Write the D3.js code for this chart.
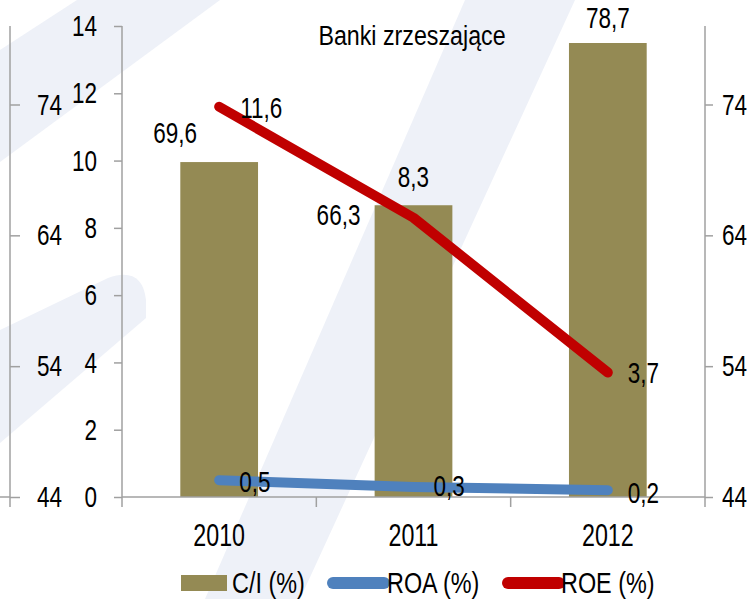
<!DOCTYPE html>
<html>
<head>
<meta charset="utf-8">
<script src="https://cdn.jsdelivr.net/npm/d3@7"></script>
<style>
  body { margin: 0; background: #fff; }
  svg { display: block; }
  text { font-family: 'Liberation Sans Narrow', 'Arial Narrow', 'Liberation Sans', sans-serif; fill: #000; }
</style>
</head>
<body>
<div id="graf"></div>
<script>
// -- Dane --
lata = ['2010', '2011', '2012']
ci   = [69.6, 66.3, 78.7]   // C/I (%) - słupki, oś 44-80
roa  = [0.5, 0.3, 0.2]      // ROA (%)
roe  = [11.6, 8.3, 3.7]     // ROE (%)
ticksLewa = [0, 2, 4, 6, 8, 10, 12, 14]
ticksCI   = [44, 54, 64, 74]
tytul     = 'Banki zrzeszające'
legenda   = ['C/I (%)', 'ROA (%)', 'ROE (%)']

// przesunięcia etykiet danych [dx, dy, anchor]
etykCI  = [[-44, -19, 'middle'], [-75, 20, 'middle'], [0, -15, 'middle']]
etykROE = [[21, 11, 'start'], [0, -31, 'middle'], [20, 10, 'start']]
etykROA = [[20, 12, 'start'], [20, 9, 'start'], [20, 13, 'start']]

fmt = v => d3.format('.1f')(v).replace('.', ',')
SX = 0.75   // zwężenie czcionki (brak Arial Narrow)

// tekst zwężony: x,y przeniesione do transform
function wezsze(sel, sx) {
  sel.each(function () {
    t = d3.select(this)
    px = +t.attr('x') || 0
    py = +t.attr('y') || 0
    t.attr('x', 0).attr('y', 0)
     .attr('transform', `translate(${px},${py}) scale(${sx || SX},1)`)
  })
}

// -- Canvas --
ancho_total = 755
alto_total = 599
margins = {top: 26, left: 122, right: 50, bottom: 102}
ancho = ancho_total - margins.left - margins.right
alto  = alto_total - margins.top - margins.bottom

svg = d3.select('#graf').append('svg')
        .attr('width', ancho_total)
        .attr('height', alto_total)

// znak wodny w tle
bg = svg.append('g').attr('fill', '#eef1f8')
bg.append('path').attr('d', 'M0,50 L77,0 L220,0 L0,162 Z')
bg.append('path').attr('d', 'M465,0 L575,0 L300,599 L205,599 Z')
bg.append('path').attr('d', 'M0,330 L108,278 Q142,266 146,300 L146,318 L0,443 Z')

g = svg.append('g')
       .attr('transform', `translate(${margins.left}, ${margins.top})`)

// -- Escaladores --
xGrp = d3.scaleBand().domain(lata).range([0, ancho])
x = d3.scaleBand().domain(lata).range([0, ancho]).paddingInner(0.6).paddingOuter(0.3)
yL = d3.scaleLinear().domain([0, 14]).range([alto, 0])
yCI = d3.scaleLinear().domain([44, 80]).range([alto, 0])
cx = d => xGrp(d) + xGrp.bandwidth() / 2

kolCI = '#948a54', kolROA = '#4f81bd', kolROE = '#c00000', kolOs = '#a0a0a0'

// -- Osie --
function stylOs(sel) {
  sel.select('.domain').remove()
  sel.selectAll('line').attr('stroke', kolOs).attr('stroke-width', 1.5)
  sel.selectAll('text').style('font-size', '30px').attr('fill', '#000')
     .each(function () {
       t = d3.select(this)
       t.attr('x', +t.attr('x') / SX).attr('transform', `scale(${SX},1)`)
     })
}
// lewa oś 0-14
g.append('g')
 .call(d3.axisLeft(yL).tickValues(ticksLewa).tickSize(8).tickPadding(17).tickFormat(d3.format('d')))
 .call(stylOs)
// skrajnie lewa oś C/I
g.append('g')
 .attr('transform', `translate(${10 - margins.left}, 0)`)
 .call(d3.axisRight(yCI).tickValues(ticksCI).tickSize(10).tickPadding(17).tickFormat(d3.format('d')))
 .call(stylOs)
// prawa oś C/I
g.append('g')
 .attr('transform', `translate(${ancho}, 0)`)
 .call(d3.axisRight(yCI).tickValues(ticksCI).tickSize(8).tickPadding(9).tickFormat(d3.format('d')))
 .call(stylOs)

// linie osi pionowych (do 10px poniżej osi X)
;[10 - margins.left, 0, ancho].forEach(px => {
  g.append('line').attr('x1', px).attr('x2', px).attr('y1', 0).attr('y2', alto + 10)
   .attr('stroke', kolOs).attr('stroke-width', 1.5)
})
g.append('line').attr('x1', 10 - margins.left - 10).attr('x2', 10 - margins.left)
 .attr('y1', alto).attr('y2', alto).attr('stroke', kolOs).attr('stroke-width', 1.5)

// -- Słupki --
g.selectAll('rect.ci')
 .data(lata)
 .enter().append('rect')
 .attr('class', 'ci')
 .attr('x', d => x(d))
 .attr('width', x.bandwidth())
 .attr('y', (d, i) => yCI(ci[i]))
 .attr('height', (d, i) => alto - yCI(ci[i]))
 .attr('fill', kolCI)

// oś X
g.append('line').attr('x1', 0).attr('x2', ancho).attr('y1', alto).attr('y2', alto)
 .attr('stroke', kolOs).attr('stroke-width', 1.5)
g.selectAll('line.xt')
 .data(lata.slice(1))
 .enter().append('line')
 .attr('class', 'xt')
 .attr('x1', d => xGrp(d)).attr('x2', d => xGrp(d))
 .attr('y1', alto).attr('y2', alto + 10)
 .attr('stroke', kolOs).attr('stroke-width', 1.5)
g.selectAll('text.rok')
 .data(lata)
 .enter().append('text')
 .attr('class', 'rok')
 .attr('x', cx)
 .attr('y', alto + 49)
 .attr('text-anchor', 'middle')
 .style('font-size', '31px')
 .text(d => d)
 .call(wezsze)

// -- Linie --
linia = d3.line().x(d => cx(d.rok)).y(d => yL(d.v))
function rysujSerie(vals, kolor, szer) {
  pts = lata.map((r, i) => ({rok: r, v: vals[i]}))
  g.append('path')
   .attr('d', linia(pts))
   .attr('fill', 'none')
   .attr('stroke', kolor)
   .attr('stroke-width', szer)
   .attr('stroke-linecap', 'round')
   .attr('stroke-linejoin', 'round')
}
rysujSerie(roa, kolROA, 10)
rysujSerie(roe, kolROE, 10)

// -- Etykiety danych --
function etykiety(vals, off, yScale) {
  g.append('g').selectAll('text')
   .data(lata)
   .enter().append('text')
   .attr('x', (d, i) => cx(d) + off[i][0])
   .attr('y', (d, i) => yScale(vals[i]) + off[i][1])
   .attr('text-anchor', (d, i) => off[i][2])
   .style('font-size', '30px')
   .text((d, i) => fmt(vals[i]))
   .call(wezsze)
}
etykiety(ci, etykCI, yCI)
etykiety(roe, etykROE, yL)
etykiety(roa, etykROA, yL)

// tytuł
svg.append('text')
   .attr('x', 412).attr('y', 45)
   .attr('text-anchor', 'middle')
   .style('font-size', '28px')
   .text(tytul)
   .call(wezsze, 0.83)

// -- Legenda --
leg = svg.append('g').attr('transform', 'translate(0, 583)')
leg.append('rect').attr('x', 181).attr('y', -8).attr('width', 46).attr('height', 16).attr('fill', kolCI)
leg.append('line').attr('x1', 333).attr('x2', 384).attr('y1', 0).attr('y2', 0)
   .attr('stroke', kolROA).attr('stroke-width', 12).attr('stroke-linecap', 'round')
leg.append('line').attr('x1', 508).attr('x2', 559).attr('y1', 0).attr('y2', 0)
   .attr('stroke', kolROE).attr('stroke-width', 12).attr('stroke-linecap', 'round')
leg.selectAll('text')
   .data(legenda)
   .enter().append('text')
   .attr('x', (d, i) => [232, 387, 561][i])
   .attr('y', 10)
   .style('font-size', '30px')
   .text(d => d)
   .call(wezsze, 0.78)
</script>
</body>
</html>
